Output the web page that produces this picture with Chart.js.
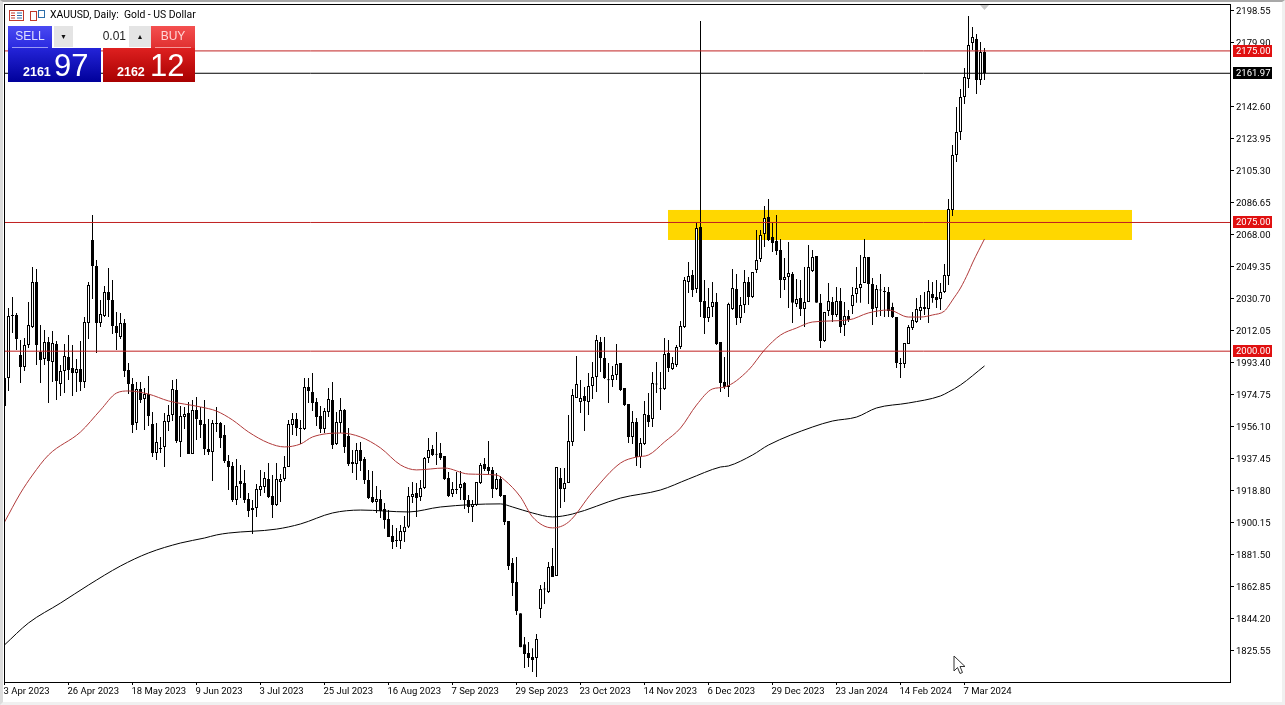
<!DOCTYPE html>
<html>
<head>
<meta charset="utf-8">
<title>XAUUSD, Daily</title>
<script src="https://cdn.jsdelivr.net/npm/chart.js@4"></script>
<style>
    html, body { margin: 0; padding: 0; background: #fff; overflow: hidden; }
    #wrap { position: relative; width: 1285px; height: 705px; font-family: "Liberation Sans", sans-serif; }
    canvas { position: absolute; left: 0; top: 0; }
    #edge { position: absolute; left: 0; top: 0; width: 1285px; height: 705px; box-sizing: border-box; pointer-events: none;
        border-top: 2px solid #a8a8a8; border-left: 3px solid #dcdcdc; border-right: 3px solid #f0f0f0; border-bottom: 3px solid #f0f0f0; }
    .abs { position: absolute; white-space: nowrap; }
    .sell-top { background: linear-gradient(#4a4af2, #2a2ae0); }
    .sell-low { background: linear-gradient(#2424d8, #00009a); }
    .buy-top { background: linear-gradient(#f45050, #e03030); }
    .buy-low { background: linear-gradient(#de2020, #a80000); }
    .btn { background: #e4e4e4; color: #111; font-size: 7px; line-height: 21px; text-align: center; }
</style>
</head>
<body>
<div id="wrap">
    <canvas id="chart" width="1285" height="705"></canvas>
    <div id="edge"></div>

    <svg class="abs" style="left:9px;top:10px" width="37" height="11">
        <rect x="0.5" y="0.5" width="14" height="10" fill="#fff" stroke="#c0392b"/>
        <path d="M2 3h4M2 5.500h4M2 8h4" stroke="#c0392b"/>
        <path d="M8 3h5M8 5.500h5M8 8h5" stroke="#2c6ea8"/>
        <rect x="21.500" y="1.500" width="6" height="9" fill="#fff" stroke="#c0392b"/>
        <rect x="29.500" y="0.500" width="6" height="7" fill="#fff" stroke="#2c6ea8"/>
    </svg>
    <div class="abs" style="left:50px;top:9px;font-family:Roboto,sans-serif;font-size:10.400px;line-height:12px;color:#000">XAUUSD, Daily:&nbsp; Gold - US Dollar</div>

    <div class="abs sell-top" style="left:8px;top:26px;width:44px;height:22px;color:#dfe0ff;font-size:12px;line-height:21px;text-align:center">SELL</div>
    <div class="abs sell-low" style="left:8px;top:48px;width:93px;height:34px"></div>
    <div class="abs" style="left:12px;top:47px;width:36px;height:1px;background:#9a9af5"></div>
    <div class="abs" style="left:23px;top:64px;color:#fff;font-size:12.500px;font-weight:bold;line-height:16px">2161</div>
    <div class="abs" style="left:54px;top:49px;color:#fff;font-size:31px;line-height:34px">97</div>

    <div class="abs btn" style="left:54px;top:26px;width:19px;height:21px">&#9660;</div>
    <div class="abs" style="left:73px;top:26px;width:53px;height:21px;padding-right:3px;background:#fff;color:#222;font-size:12px;line-height:21px;text-align:right">0.01</div>
    <div class="abs btn" style="left:129px;top:26px;width:22px;height:21px">&#9650;</div>

    <div class="abs buy-top" style="left:151px;top:26px;width:44px;height:22px;color:#ffd8d8;font-size:12px;line-height:21px;text-align:center">BUY</div>
    <div class="abs buy-low" style="left:103px;top:48px;width:92px;height:34px"></div>
    <div class="abs" style="left:155px;top:47px;width:36px;height:1px;background:#f59a9a"></div>
    <div class="abs" style="left:117px;top:64px;color:#fff;font-size:12.500px;font-weight:bold;line-height:16px">2162</div>
    <div class="abs" style="left:150px;top:49px;color:#fff;font-size:31px;line-height:34px">12</div>

    <svg class="abs" style="left:979px;top:4px" width="11" height="7"><path d="M1 1h9l-4.500 5z" fill="#c8c8c8"/></svg>
    <svg class="abs" style="left:953px;top:655px" width="14" height="21"><path d="M1 1v15l3.500-3.500 2.500 6 2.500-1-2.500-6h5z" fill="#fff" stroke="#333"/></svg>
</div>

<script>
// bar index -> price, one row of ten bars per line
const opens = [
    1984.4,1984.4,2021.1,2021.1,1997.8,1990.8,2003.6,2014.1,2040.3,1999.5,
    1995.5,2005.4,1993.7,2004.2,1980.9,1988.5,1996.6,1990.2,1987.3,1989.6,
    1982.0,2016.4,2064.8,2049.6,2016.4,2020.5,2034.5,2029.8,2014.7,2008.3,
    2016.4,1989.0,1980.9,1958.2,1978.0,1972.1,1975.0,1957.6,1940.7,1943.6,
    1944.2,1958.7,1962.8,1977.4,1947.1,1961.6,1964.0,1940.1,1965.7,1959.9,
    1957.6,1943.0,1941.2,1958.2,1958.2,1951.2,1936.0,1933.1,1913.3,1924.3,
    1923.2,1913.9,1908.6,1908.6,1919.1,1920.9,1925.5,1915.6,1910.3,1923.8,
    1925.5,1932.5,1957.0,1960.5,1955.2,1954.6,1979.1,1976.2,1970.4,1962.2,
    1954.6,1964.6,1971.6,1945.9,1958.2,1965.7,1950.6,1935.4,1934.2,1942.4,
    1937.2,1924.9,1915.0,1912.1,1913.9,1908.0,1902.2,1892.3,1890.0,1889.4,
    1894.6,1897.6,1915.0,1917.3,1915.0,1920.3,1937.7,1943.0,1940.1,1940.7,
    1938.9,1926.1,1916.7,1919.4,1920.3,1923.2,1913.3,1909.2,1910.3,1923.2,
    1934.2,1932.5,1930.8,1919.7,1925.5,1916.2,1901.0,1876.6,1865.5,1847.3,
    1829.2,1824.1,1821.8,1821.2,1849.7,1861.6,1859.6,1874.8,1869.0,1926.1,
    1919.7,1923.2,1947.1,1972.7,1970.4,1973.9,1970.4,1979.7,1985.0,2005.4,
    1996.0,1983.4,1983.2,1986.1,1993.1,1978.5,1969.2,1950.0,1958.7,1938.3,
    1945.9,1962.8,1960.5,1981.1,1978.2,1978.0,1998.9,1989.6,1992.0,2002.4,
    2014.1,2040.3,2044.4,2036.2,2072.4,2029.2,2019.3,2025.7,2028.7,2005.4,
    1982.0,1979.1,2024.6,2036.2,2019.3,2026.9,2040.3,2031.6,2047.3,2053.7,
    2068.3,2078.2,2066.5,2064.2,2059.0,2041.5,2043.2,2045.0,2027.5,2031.0,
    2024.6,2028.7,2046.7,2055.5,2028.2,2006.0,2023.4,2028.7,2021.1,2029.2,
    2015.3,2020.5,2026.3,2033.3,2036.8,2039.7,2054.9,2039.1,2025.2,2035.8,
    2035.1,2034.5,2025.7,2019.9,1993.1,1992.5,2004.2,2013.5,2017.0,2023.4,
    2025.7,2024.6,2033.3,2031.6,2030.4,2034.5,2043.8,2082.3,2114.3,2127.7,
    2148.1,2158.6,2179.6,2181.9,2158.0,2174.4
];
const highs = [
    1987.9,2025.2,2031.6,2022.3,2006.5,2007.7,2028.7,2049.0,2047.9,2015.3,
    2012.3,2008.3,2011.8,2006.0,1992.0,2004.2,2009.4,2003.6,1995.5,2006.0,
    2019.9,2040.3,2079.4,2053.1,2029.8,2038.0,2048.5,2041.5,2022.9,2022.3,
    2018.8,1993.1,1984.4,1982.0,1982.0,1978.5,1985.5,1964.6,1958.2,1950.0,
    1964.0,1968.6,1983.2,1983.8,1968.0,1967.5,1970.4,1971.6,1973.3,1967.5,
    1971.6,1960.5,1959.9,1967.5,1958.7,1957.0,1939.5,1935.4,1937.2,1933.7,
    1930.8,1917.3,1913.3,1922.6,1930.8,1929.6,1934.8,1927.8,1934.8,1928.4,
    1938.9,1959.9,1964.0,1964.0,1959.9,1984.4,1984.4,1987.3,1972.7,1968.0,
    1966.9,1978.5,1982.0,1964.6,1972.7,1966.3,1955.2,1942.4,1946.5,1947.1,
    1938.3,1930.8,1930.2,1921.4,1919.1,1911.5,1907.4,1898.7,1897.0,1898.7,
    1904.0,1920.9,1923.8,1923.2,1924.9,1938.3,1949.4,1945.3,1952.9,1946.5,
    1938.9,1929.6,1923.8,1929.6,1930.2,1923.8,1916.2,1913.3,1923.8,1934.8,
    1937.7,1947.7,1932.5,1929.0,1927.3,1916.2,1901.0,1879.5,1880.0,1847.3,
    1833.4,1830.5,1826.9,1835.2,1863.7,1865.5,1877.1,1885.3,1932.5,1931.9,
    1931.9,1962.8,1978.0,1997.2,1983.2,1979.1,1987.3,1993.7,2009.4,2008.3,
    2008.3,1993.1,1991.4,2004.2,1993.1,1978.5,1969.2,1965.1,1961.0,1949.4,
    1971.0,1975.6,1987.9,1993.7,1987.9,2007.7,2006.5,1996.6,2003.6,2017.6,
    2043.2,2052.0,2047.3,2075.3,2192.4,2041.5,2036.8,2040.3,2033.9,2005.4,
    1996.6,2028.2,2047.9,2045.0,2031.6,2047.3,2043.2,2046.1,2070.6,2070.6,
    2084.6,2088.7,2074.7,2079.4,2065.4,2054.3,2063.6,2046.1,2042.1,2041.5,
    2049.0,2061.9,2059.0,2055.5,2033.3,2022.9,2039.7,2031.6,2037.4,2036.8,
    2028.7,2024.0,2037.4,2049.0,2056.1,2065.4,2054.9,2042.7,2038.6,2045.0,
    2037.4,2037.4,2028.2,2019.9,1996.0,2004.8,2015.3,2022.9,2031.0,2032.7,
    2034.5,2041.5,2040.3,2041.5,2039.7,2050.8,2088.7,2120.2,2142.3,2152.8,
    2165.0,2195.3,2188.9,2184.8,2180.2,2176.7
];
const lows = [
    1968.0,1976.8,2010.6,2000.7,1981.4,1988.4,2001.9,2013.5,1992.0,1981.4,
    1992.0,1969.8,1982.0,1971.6,1973.9,1975.6,1983.2,1973.9,1976.2,1976.8,
    1978.5,2007.1,2030.4,1998.9,2014.1,2019.9,2019.9,2010.0,2000.7,2007.1,
    1985.0,1975.0,1952.3,1954.1,1969.8,1954.1,1956.4,1938.3,1936.6,1940.7,
    1932.5,1953.5,1959.3,1946.5,1938.3,1954.6,1940.1,1940.1,1948.2,1949.4,
    1939.5,1939.5,1924.3,1952.9,1943.6,1934.8,1919.1,1912.1,1910.3,1914.4,
    1911.5,1903.4,1893.4,1903.4,1915.6,1917.3,1914.4,1902.8,1909.8,1912.1,
    1924.3,1932.5,1951.2,1950.6,1945.9,1954.1,1969.8,1965.1,1956.4,1952.3,
    1952.3,1961.6,1943.0,1945.3,1952.3,1940.7,1933.1,1929.0,1924.9,1930.2,
    1922.6,1913.9,1911.5,1905.7,1902.8,1896.5,1891.7,1884.7,1885.9,1884.7,
    1888.8,1897.0,1911.5,1903.4,1912.7,1919.7,1934.8,1938.9,1933.7,1936.6,
    1924.9,1915.0,1915.0,1916.7,1913.3,1908.0,1905.7,1900.4,1909.8,1922.6,
    1930.2,1927.8,1914.4,1919.1,1915.0,1898.7,1872.4,1857.3,1846.2,1827.4,
    1815.3,1815.9,1813.0,1810.1,1844.5,1852.7,1859.1,1868.4,1869.0,1908.6,
    1912.1,1923.2,1944.7,1972.7,1964.0,1953.5,1962.8,1972.1,1976.2,1987.9,
    1983.8,1969.8,1979.1,1983.2,1976.8,1968.0,1946.5,1945.9,1933.1,1931.9,
    1945.3,1955.8,1955.8,1975.6,1965.7,1977.4,1987.9,1989.0,1990.8,2001.3,
    2013.5,2033.9,2031.6,2033.9,2019.9,2010.0,2017.0,2019.9,2003.6,1976.2,
    1978.0,1973.3,2024.0,2015.3,2016.4,2022.3,2026.9,2031.0,2045.6,2052.0,
    2060.7,2064.2,2057.8,2056.1,2031.0,2035.6,2025.2,2016.4,2025.7,2020.5,
    2014.1,2028.7,2046.1,2028.2,2001.9,2005.4,2020.5,2017.0,2019.9,2010.6,
    2008.9,2017.0,2021.7,2028.2,2028.2,2039.7,2027.5,2015.3,2019.9,2020.5,
    2019.9,2019.9,2019.3,1990.2,1984.4,1990.2,2004.2,2012.3,2016.4,2018.2,
    2021.1,2016.4,2028.2,2025.2,2024.0,2033.9,2038.6,2078.8,2110.3,2123.1,
    2144.1,2153.4,2175.5,2149.9,2155.1,2158.0
];
const closes = [
    1968.0,2020.5,2020.5,2007.1,1990.8,2003.6,2015.3,2040.3,2003.6,1994.9,
    2005.4,1994.3,2004.8,1982.6,1988.5,1997.2,1989.0,1987.3,1989.6,1982.0,
    2017.0,2038.6,2049.6,2016.4,2021.7,2034.5,2029.8,2014.7,2010.6,2016.4,
    1988.5,1980.9,1957.0,1978.0,1971.6,1975.0,1962.2,1940.7,1947.1,1943.0,
    1959.3,1962.8,1978.0,1947.7,1962.2,1963.4,1940.1,1965.7,1960.5,1957.0,
    1943.0,1941.2,1958.2,1957.6,1949.4,1936.0,1932.5,1913.3,1921.4,1922.6,
    1913.3,1906.9,1907.4,1919.7,1921.4,1926.1,1915.0,1910.3,1925.5,1925.5,
    1932.5,1957.6,1960.5,1955.2,1954.6,1979.1,1976.8,1969.8,1961.6,1954.6,
    1965.1,1972.1,1945.3,1958.7,1965.7,1944.2,1934.2,1934.2,1942.4,1936.0,
    1924.9,1914.4,1912.1,1913.9,1906.9,1901.6,1891.7,1888.8,1889.4,1895.2,
    1897.6,1915.6,1916.7,1914.4,1920.3,1937.7,1942.4,1939.5,1939.7,1937.7,
    1925.5,1915.6,1919.7,1919.1,1922.6,1913.3,1909.2,1911.0,1923.8,1933.7,
    1931.3,1930.2,1919.7,1925.5,1915.6,1900.4,1874.8,1864.9,1848.5,1827.4,
    1823.5,1821.2,1820.0,1832.2,1861.4,1861.1,1874.2,1868.4,1932.5,1919.7,
    1923.2,1947.7,1974.5,1980.9,1972.7,1971.0,1979.7,1985.0,2006.5,1996.0,
    1984.4,1983.0,1986.1,1992.5,1977.4,1968.6,1950.0,1958.7,1938.3,1946.5,
    1963.4,1958.7,1981.4,1980.6,1977.8,1998.4,1990.2,1993.1,2002.4,2014.7,
    2041.5,2043.8,2035.6,2071.8,2028.7,2019.3,2025.7,2028.7,2004.2,1981.4,
    1979.1,2027.5,2036.8,2019.3,2026.9,2040.3,2031.6,2046.1,2053.1,2067.7,
    2077.6,2064.8,2063.0,2058.4,2041.5,2043.2,2045.6,2028.2,2030.4,2024.6,
    2028.7,2049.0,2054.9,2028.2,2006.0,2022.9,2029.2,2021.1,2029.2,2014.1,
    2020.5,2018.2,2032.7,2036.8,2039.1,2054.9,2039.1,2024.6,2036.2,2035.4,
    2034.5,2023.4,2019.9,1993.1,1992.5,2004.8,2014.1,2018.2,2024.6,2025.7,
    2024.6,2035.1,2031.0,2029.8,2034.5,2044.4,2082.9,2114.3,2127.7,2148.1,
    2159.8,2178.4,2183.1,2158.0,2174.4,2161.97
];

// moving averages, read at the bars where the curve bends
const fastMaBars = [0,4,7,11,19,24,28,31,36,41,49,53,57,61,66,70,74,77,84,89,94,99,103,110,116,123,125,129,132,137,141,147,154,158,161,165,169,173,177,180,186,190,194,198,202,211,216,221,226,229,232,235,236,237,239,241,242,245];
const fastMaValues = [1900.4,1917.3,1927.8,1939.5,1952.9,1965.7,1975.6,1976.8,1975.0,1971.0,1967.5,1965.1,1959.9,1952.9,1946.5,1944.2,1945.9,1950.0,1952.3,1950.0,1943.6,1933.7,1930.8,1931.9,1928.4,1927.8,1924.9,1915.0,1903.4,1897.0,1900.4,1917.9,1934.8,1938.3,1939.5,1947.1,1955.2,1968.6,1978.0,1979.1,1989.0,2000.7,2009.4,2013.5,2017.0,2018.2,2022.3,2024.0,2019.9,2019.9,2021.1,2023.4,2026.3,2029.8,2036.8,2046.1,2051.4,2065.4];
const slowMaBars = [0,6,14,21,29,36,44,50,53,56,68,74,82,89,101,109,124,127,132,137,142,154,164,171,179,181,187,191,202,207,213,218,226,234,236,239,245];
const slowMaValues = [1828.8,1841.6,1853.2,1863.7,1874.8,1882.4,1888.2,1891.1,1892.9,1894.0,1896.3,1899.3,1905.7,1907.4,1906.3,1909.2,1911.0,1909.2,1905.7,1903.4,1905.1,1914.4,1919.1,1925.5,1932.5,1933.1,1939.5,1945.3,1955.8,1959.3,1961.6,1966.9,1969.8,1973.9,1976.2,1980.3,1991.4];

const levelValues = [2175.00, 2075.00, 2000.00, 2161.97];
const zoneBars = [165.875, 281.875];
const zonePrices = [2064.8, 2082.3];

const priceTicks = [2198.55,2179.90,2142.60,2123.95,2105.30,2086.65,2068.00,2049.35,2030.70,2012.05,1993.40,1974.75,1956.10,1937.45,1918.80,1900.15,1881.50,1862.85,1844.20,1825.55];
const dateTickBars = [0,16,32,48,64,80,96,112,128,144,160,176,192,208,224,240];
const dateTicks = ['3 Apr 2023','26 Apr 2023','18 May 2023','9 Jun 2023','3 Jul 2023','25 Jul 2023','16 Aug 2023','7 Sep 2023','29 Sep 2023','23 Oct 2023','14 Nov 2023','6 Dec 2023','29 Dec 2023','23 Jan 2024','14 Feb 2024','7 Mar 2024'];

const RED = '#c02020';
const LABEL_FONT = {family: 'Roboto, sans-serif', size: 9.5};
const xMin = -0.125, xMax = 306.375;
const yMin = 1807.19, yMax = 2202.34;

const isUp = i => closes[i] >= opens[i];

const zonePlugin = {
    id: 'zone',
    beforeDatasetsDraw(chart) {
        const {ctx, scales: {x, y}} = chart;
        ctx.save();
        ctx.fillStyle = '#ffd700';
        ctx.fillRect(x.getPixelForValue(zoneBars[0]), y.getPixelForValue(zonePrices[1]),
            x.getPixelForValue(zoneBars[1]) - x.getPixelForValue(zoneBars[0]),
            y.getPixelForValue(zonePrices[0]) - y.getPixelForValue(zonePrices[1]));
        ctx.restore();
    }
};

// plot frame and the price tags on the right axis
const framePlugin = {
    id: 'frame',
    afterDraw(chart) {
        const {ctx, chartArea: a, scales: {y}} = chart;
        ctx.save();
        ctx.strokeStyle = '#000';
        ctx.lineWidth = 1;
        ctx.strokeRect(a.left + 0.5, a.top + 0.5, a.right - a.left, a.bottom - a.top);
        ctx.font = '9.5px Roboto, sans-serif';
        ctx.textBaseline = 'middle';
        ctx.textAlign = 'left';
        levelValues.forEach((v, i) => {
            const py = y.getPixelForValue(v);
            ctx.fillStyle = i === 3 ? '#000' : '#e01010';
            ctx.fillRect(1233, Math.round(py) - 6, 39, 12);
            ctx.fillStyle = '#fff';
            ctx.fillText(v.toFixed(2), 1236, Math.round(py) + 1);
        });
        ctx.restore();
    }
};

const noMargins = s => {
    s.paddingTop = 0;
    s.paddingBottom = 0;
    s.paddingLeft = 0;
    s.paddingRight = 0;
};

const bars = opens.map((_, i) => i);

new Chart(document.getElementById('chart'), {
    data: {
        datasets: [
            ...levelValues.map((v, i) => ({
                type: 'line',
                order: 1,
                data: [{x: xMin, y: v}, {x: xMax, y: v}],
                borderColor: i === 3 ? '#000' : RED,
                borderWidth: 1,
                pointRadius: 0
            })),
            {
                type: 'line',
                order: 2,
                data: fastMaBars.map((b, i) => ({x: b, y: fastMaValues[i]})),
                borderColor: '#b03a3a',
                borderWidth: 1,
                pointRadius: 0,
                cubicInterpolationMode: 'monotone'
            },
            {
                type: 'line',
                order: 2,
                data: slowMaBars.map((b, i) => ({x: b, y: slowMaValues[i]})),
                borderColor: '#000',
                borderWidth: 1,
                pointRadius: 0,
                cubicInterpolationMode: 'monotone'
            },
            {
                type: 'bar',
                order: 3,
                grouped: false,
                barThickness: 3,
                minBarLength: 1,
                inflateAmount: 0,
                borderSkipped: false,
                borderWidth: 1,
                borderColor: '#000',
                backgroundColor: bars.map(i => isUp(i) ? '#fff' : '#000'),
                data: bars.map(i => ({x: i, y: [opens[i], closes[i]]}))
            },
            {
                type: 'bar',
                order: 4,
                grouped: false,
                barThickness: 1,
                inflateAmount: 0,
                backgroundColor: '#000',
                data: bars.map(i => ({x: i, y: [lows[i], highs[i]]}))
            }
        ]
    },
    options: {
        responsive: false,
        animation: false,
        events: [],
        layout: {padding: {left: 4, top: 4, right: 0, bottom: 0}},
        plugins: {legend: {display: false}, tooltip: {enabled: false}},
        scales: {
            x: {
                type: 'linear',
                offset: false,
                min: xMin,
                max: xMax,
                afterFit: s => { s.height = 23; noMargins(s); },
                afterBuildTicks: s => { s.ticks = dateTickBars.map(v => ({value: v})); },
                border: {display: false},
                grid: {drawOnChartArea: false, color: '#000', tickLength: 3, offset: false},
                ticks: {
                    autoSkip: false,
                    maxRotation: 0,
                    align: 'start',
                    padding: 1,
                    labelOffset: -1,
                    color: '#000',
                    font: LABEL_FONT,
                    callback: v => dateTicks[dateTickBars.indexOf(v)]
                }
            },
            y: {
                position: 'right',
                min: yMin,
                max: yMax,
                afterFit: s => { s.width = 55; noMargins(s); },
                afterBuildTicks: s => { s.ticks = priceTicks.map(v => ({value: v})); },
                border: {display: false},
                grid: {drawOnChartArea: false, color: '#000', tickLength: 4},
                ticks: {
                    autoSkip: false,
                    padding: 2,
                    labelOffset: 1,
                    color: '#000',
                    font: LABEL_FONT,
                    callback: v => v.toFixed(2)
                }
            }
        }
    },
    plugins: [zonePlugin, framePlugin]
});
</script>
</body>
</html>
